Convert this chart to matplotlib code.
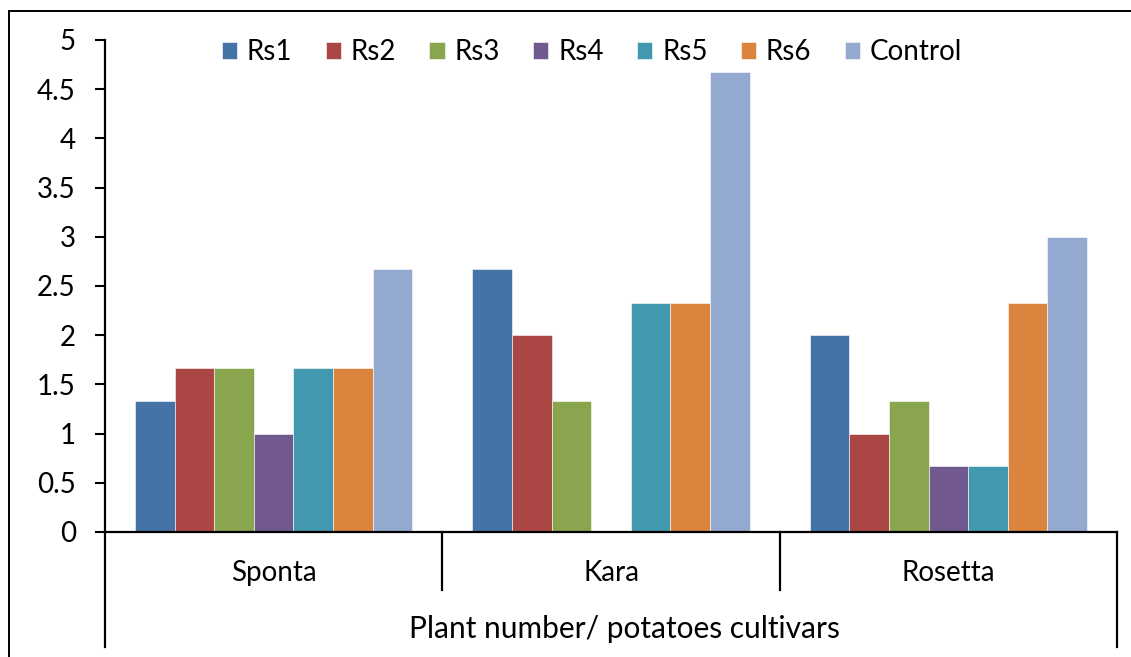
import numpy as np
import matplotlib.pyplot as plt
from matplotlib.lines import Line2D

plt.rcParams['font.family'] = ['Lato', 'DejaVu Sans']

cultivars = ['Sponta', 'Kara', 'Rosetta']
series = ['Rs1', 'Rs2', 'Rs3', 'Rs4', 'Rs5', 'Rs6', 'Control']
rs1 = [1.33, 2.67, 2.0]
rs2 = [1.67, 2.0, 1.0]
rs3 = [1.67, 1.33, 1.33]
rs4 = [1.0, 0.0, 0.67]
rs5 = [1.67, 2.33, 0.67]
rs6 = [1.67, 2.33, 2.33]
control = [2.67, 4.67, 3.0]
colors = ['#4572A7', '#AA4643', '#89A54E', '#71588F', '#4198AF', '#DB843D', '#93A9CF']

values = [rs1, rs2, rs3, rs4, rs5, rs6, control]

fig = plt.figure(figsize=(11.31, 6.57), dpi=100)
ax = fig.add_axes([105 / 1131, 1 - 532 / 657, 1012 / 1131, 492 / 657])

x = np.arange(len(cultivars)) + 0.5
w = 0.1175
for i, (name, vals) in enumerate(zip(series, values)):
    ax.bar(x + (i - 3) * w, vals, w, color=colors[i], label=name,
           edgecolor='white', linewidth=0.4)

ax.set_xlim(0, 3)
ax.set_ylim(0, 5)
ax.set_yticks(np.arange(0, 5.01, 0.5))
ax.set_yticklabels(['0', '0.5', '1', '1.5', '2', '2.5', '3', '3.5', '4', '4.5', '5'])
ax.tick_params(axis='y', direction='out', length=7, width=1.5, pad=14, labelsize=20)
ax.set_xticks([])
for s in ['top', 'right']:
    ax.spines[s].set_visible(False)
ax.spines['left'].set_linewidth(1.6)
ax.spines['bottom'].set_linewidth(1.6)

# category table below the axis
tr = ax.get_xaxis_transform()
for xs in [0, 3]:
    ax.plot([xs, xs], [0, -0.234], transform=tr, color='black', lw=1.6, clip_on=False)
for xs in [1, 2]:
    ax.plot([xs, xs], [0, -0.118], transform=tr, color='black', lw=1.6, clip_on=False)
for xi, name in zip(x, cultivars):
    ax.text(xi, -0.083, name, transform=tr, ha='center', va='center', fontsize=20)
ax.text(1.54, -0.198, 'Plant number/ potatoes cultivars', transform=tr,
        ha='center', va='center', fontsize=21.5)

ax.legend(loc='center', bbox_to_anchor=((592 - 105) / 1012, (532 - 52) / 492),
          ncol=7, frameon=False, fontsize=20, handlelength=0.55, handleheight=0.55,
          handletextpad=0.35, columnspacing=1.2, borderaxespad=0)

# outer frame of the figure
fig.add_artist(Line2D([9 / 1131, 1], [1 - 11 / 657] * 2, color='black', lw=1.4))
fig.add_artist(Line2D([9 / 1131] * 2, [0, 1 - 11 / 657], color='black', lw=1.4))

fig.savefig('out.png', dpi=100)
